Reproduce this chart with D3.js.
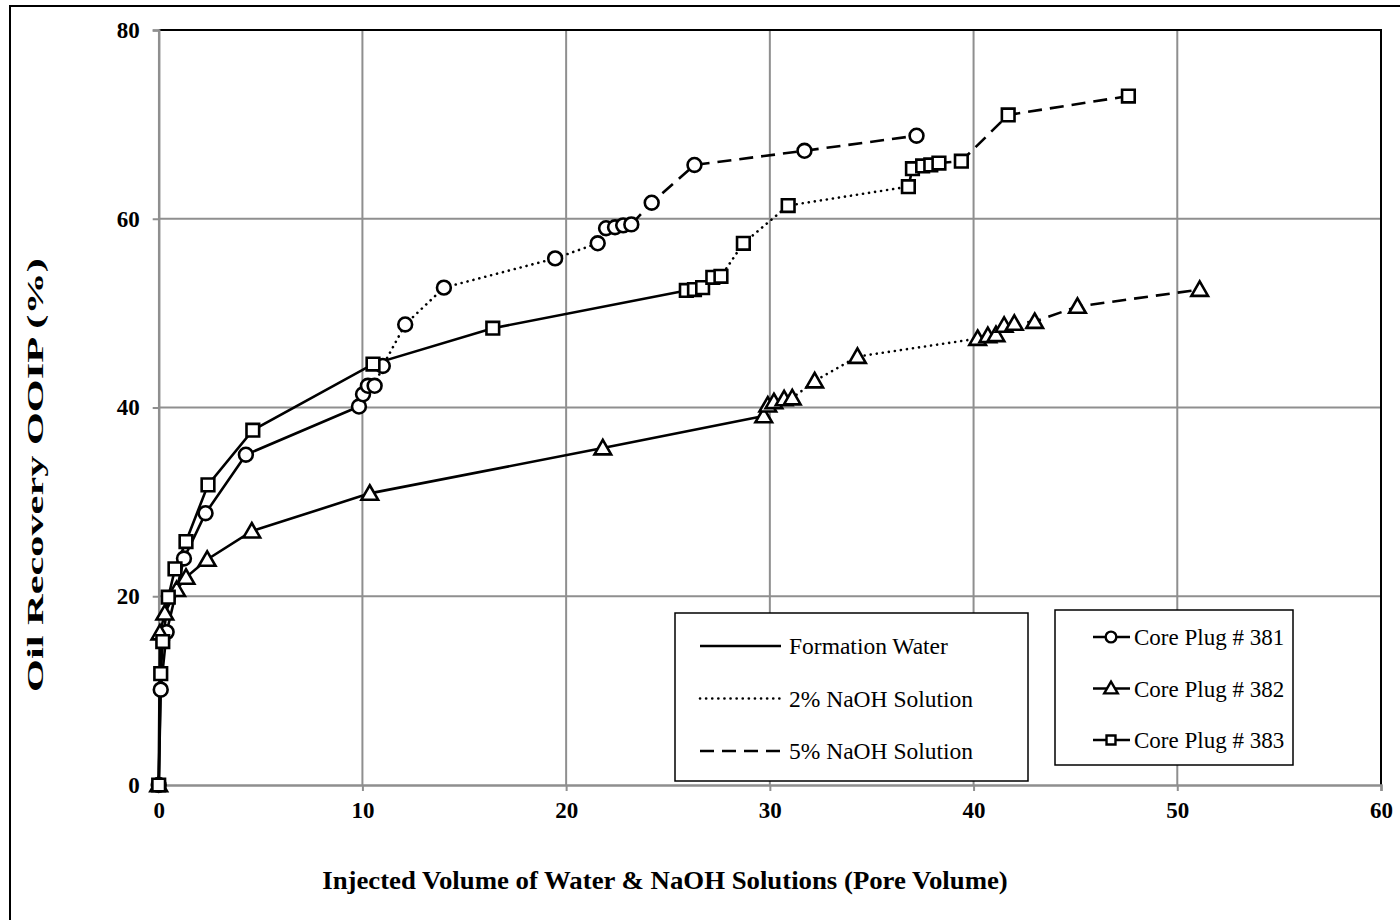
<!doctype html>
<html lang="en">
<head>
<meta charset="utf-8">
<title>Oil Recovery vs Injected Volume</title>
<script src="https://d3js.org/d3.v7.min.js"></script>
<style>
  body { margin: 0; background: #fff; }
  svg text { font-family: "Liberation Serif", "Times New Roman", serif; fill: #000; }
</style>
</head>
<body>
<svg width="1400" height="920"></svg>
<script>
// ---- data: [pore volume, recovery %] ----
// each core has three floods; the next flood starts at the last point of the previous one
const core381Water = [[0,0],[0.1,10.1],[0.39,16.2],[1.24,24.0],[2.3,28.8],[4.28,35.0],[9.83,40.1],[10.03,41.4],[10.27,42.3],[10.6,42.3]];
const core381Naoh2 = [[10.6,42.3],[11.0,44.4],[12.1,48.8],[14.0,52.7],[19.46,55.8],[21.55,57.4],[21.96,59.0],[22.4,59.1],[22.8,59.3],[23.2,59.4]];
const core381Naoh5 = [[23.2,59.4],[24.2,61.7],[26.3,65.7],[31.7,67.2],[37.2,68.8]];

const core382Water = [[0,0],[0.06,16.1],[0.3,18.2],[0.88,20.7],[1.34,22.0],[2.38,23.9],[4.57,26.9],[10.36,30.9],[21.8,35.7],[29.7,39.1]];
const core382Naoh2 = [[29.7,39.1],[29.9,40.25],[30.2,40.6],[30.7,40.9],[31.1,41.0],[32.2,42.8],[34.3,45.4],[40.2,47.3],[40.7,47.6]];
const core382Naoh5 = [[40.7,47.6],[41.1,47.7],[41.5,48.7],[42.0,48.9],[43.0,49.1],[45.1,50.7],[51.1,52.5]];

const core383Water = [[0,0],[0.1,11.8],[0.2,15.2],[0.47,19.9],[0.8,22.9],[1.34,25.8],[2.42,31.8],[4.62,37.6],[10.52,44.6],[16.4,48.4],[25.9,52.4]];
const core383Naoh2 = [[25.9,52.4],[26.3,52.5],[26.7,52.7],[27.2,53.8],[27.6,53.9],[28.7,57.4],[30.9,61.4],[36.8,63.4]];
const core383Naoh5 = [[36.8,63.4],[37.0,65.3],[37.5,65.6],[37.9,65.7],[38.3,65.9],[39.4,66.1],[41.7,71.0],[47.6,73.0]];

const xTicks = [0, 10, 20, 30, 40, 50, 60];
const yTicks = [0, 20, 40, 60, 80];
const floodNames = ["Formation Water", "2% NaOH Solution", "5% NaOH Solution"];
const coreNames = ["Core Plug # 381", "Core Plug # 382", "Core Plug # 383"];

const cores = [
  { name: coreNames[0], shape: "circle",   floods: [core381Water, core381Naoh2, core381Naoh5] },
  { name: coreNames[1], shape: "triangle", floods: [core382Water, core382Naoh2, core382Naoh5] },
  { name: coreNames[2], shape: "square",   floods: [core383Water, core383Naoh2, core383Naoh5] }
];

const dashes = ["none", "0.1 6", "14 8"];
const grey = "#8f8f8f";

const svg = d3.select("svg");

// outer chart border
svg.append("rect").attr("x", 10).attr("y", 6).attr("width", 1400).attr("height", 930)
  .attr("fill", "none").attr("stroke", "#000").attr("stroke-width", 2);

const x = d3.scaleLinear().domain([0, 60]).range([158.7, 1381]);
const y = d3.scaleLinear().domain([0, 80]).range([785, 30]);

// grid
svg.append("g").selectAll("line").data(xTicks.slice(1, -1)).join("line")
  .attr("x1", d => x(d)).attr("x2", d => x(d)).attr("y1", y(80)).attr("y2", y(0))
  .attr("stroke", grey).attr("stroke-width", 2);
svg.append("g").selectAll("line").data(yTicks.slice(1, -1)).join("line")
  .attr("x1", x(0)).attr("x2", x(60)).attr("y1", d => y(d)).attr("y2", d => y(d))
  .attr("stroke", grey).attr("stroke-width", 2);

// plot border: black top/right
svg.append("path")
  .attr("d", `M${x(0)},${y(80)}H${x(60)}V${y(0)}`)
  .attr("fill", "none").attr("stroke", "#000").attr("stroke-width", 2);

// axes
const xAxis = svg.append("g").attr("transform", `translate(0,${y(0)})`)
  .call(d3.axisBottom(x).tickValues(xTicks).tickSize(6).tickPadding(11));
const yAxis = svg.append("g").attr("transform", `translate(${x(0)},0)`)
  .call(d3.axisLeft(y).tickValues(yTicks).tickSize(6).tickPadding(13));
[xAxis, yAxis].forEach(a => {
  a.select(".domain").attr("stroke", grey).attr("stroke-width", 2.5);
  a.selectAll(".tick line").attr("stroke", grey).attr("stroke-width", 2);
  a.selectAll(".tick text").attr("font-family", "Liberation Serif").attr("font-size", 23)
    .attr("font-weight", "bold").attr("fill", "#000");
});

// series lines
const line = d3.line().x(d => x(d[0])).y(d => y(d[1]));
const plot = svg.append("g");
cores.forEach(c => {
  c.floods.forEach((pts, i) => {
    plot.append("path").datum(pts).attr("d", line)
      .attr("fill", "none").attr("stroke", "#000").attr("stroke-width", 2.6)
      .attr("stroke-linecap", i === 1 ? "round" : "butt")
      .attr("stroke-dasharray", dashes[i]);
  });
});

// markers
const sym = {
  circle: d3.symbol().type(d3.symbolCircle).size(150),
  triangle: d3.symbol().type(d3.symbolTriangle).size(120),
  square: d3.symbol().type(d3.symbolSquare).size(160)
};
cores.forEach(c => {
  const pts = [];
  c.floods.forEach((f, i) => f.forEach((p, j) => { if (i === 0 || j > 0) pts.push(p); }));
  plot.append("g").selectAll("path").data(pts).join("path")
    .attr("transform", d => `translate(${x(d[0])},${y(d[1]) + (c.shape === "triangle" ? 1.5 : 0)})`)
    .attr("d", sym[c.shape]())
    .attr("fill", "#fff").attr("stroke", "#000").attr("stroke-width", 2.6);
});

// axis titles - the source image is stretched, so scale the glyphs to the measured length
function stretched(tx, ty, rot, size, len, str) {
  const g = svg.append("g");
  const t = g.append("text").attr("text-anchor", "middle")
    .attr("font-size", size).attr("font-weight", "bold").text(str);
  const natural = t.node().getComputedTextLength();
  g.attr("transform", `translate(${tx},${ty}) rotate(${rot}) scale(${len / natural},1)`);
}
stretched(665, 889, 0, 25, 686, "Injected Volume of Water & NaOH Solutions (Pore Volume)");
stretched(43, 475, -90, 24, 434, "Oil Recovery OOIP (%)");

// legend: flood type
const lg1 = svg.append("g");
lg1.append("rect").attr("x", 675).attr("y", 613).attr("width", 353).attr("height", 168)
  .attr("fill", "#fff").attr("stroke", "#000").attr("stroke-width", 1.5);
floodNames.forEach((n, i) => {
  const ly = 646 + i * 52.5;
  lg1.append("line").attr("x1", 700).attr("x2", 781).attr("y1", ly).attr("y2", ly)
    .attr("stroke", "#000").attr("stroke-width", 2.6)
    .attr("stroke-linecap", i === 1 ? "round" : "butt")
    .attr("stroke-dasharray", dashes[i]);
  lg1.append("text").attr("x", 789).attr("y", ly).attr("dy", "0.35em")
    .attr("font-size", 23.5).text(n);
});

// legend: core plug
const lg2 = svg.append("g");
lg2.append("rect").attr("x", 1055).attr("y", 610).attr("width", 238).attr("height", 155)
  .attr("fill", "#fff").attr("stroke", "#000").attr("stroke-width", 1.5);
cores.forEach((c, i) => {
  const ly = 637 + i * 51.5;
  lg2.append("line").attr("x1", 1093).attr("x2", 1130).attr("y1", ly).attr("y2", ly)
    .attr("stroke", "#000").attr("stroke-width", 2.6);
  lg2.append("path").attr("transform", `translate(1111,${ly + (c.shape === "triangle" ? 1 : 0)})`)
    .attr("d", d3.symbol().type(c.shape === "circle" ? d3.symbolCircle : c.shape === "triangle" ? d3.symbolTriangle : d3.symbolSquare).size(c.shape === "circle" ? 90 : 80)())
    .attr("fill", "#fff").attr("stroke", "#000").attr("stroke-width", 2.4);
  lg2.append("text").attr("x", 1134).attr("y", ly).attr("dy", "0.35em")
    .attr("font-size", 23).text(c.name);
});
</script>
</body>
</html>
